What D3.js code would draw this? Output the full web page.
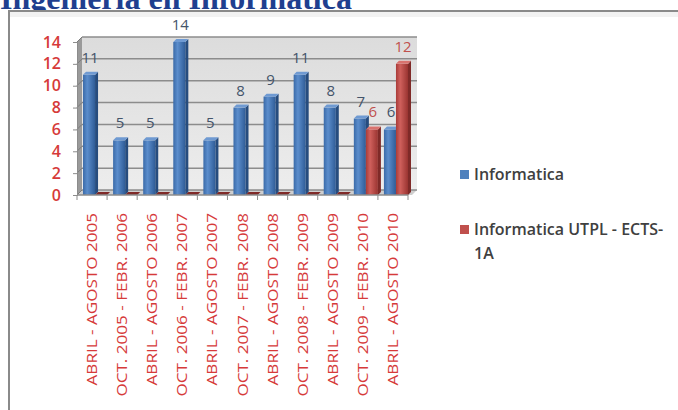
<!DOCTYPE html>
<html><head><meta charset="utf-8">
<script src="https://cdn.jsdelivr.net/npm/d3@7"></script>
<style>
html,body{margin:0;padding:0;background:#fff;overflow:hidden;}
svg{display:block;}
</style></head>
<body>
<script>
const categories = ["ABRIL - AGOSTO 2005","OCT. 2005 - FEBR. 2006","ABRIL - AGOSTO 2006","OCT. 2006 - FEBR. 2007","ABRIL - AGOSTO 2007","OCT. 2007 - FEBR. 2008","ABRIL - AGOSTO 2008","OCT. 2008 - FEBR. 2009","ABRIL - AGOSTO 2009","OCT. 2009 - FEBR. 2010","ABRIL - AGOSTO 2010"];
const informatica = [11,5,5,14,5,8,9,11,8,7,6];
const utpl = [0,0,0,0,0,0,0,0,0,6,12];
const seriesNames = ["Informatica","Informatica UTPL - ECTS-1A"];
const yTicks = [0,2,4,6,8,10,12,14];
const title = "Ingeniería en Informática";

const W = 678, H = 410;
const svg = d3.select("body").append("svg").attr("width", W).attr("height", H);
const defs = svg.append("defs");

function hGrad(id, stops){
  const g = defs.append("linearGradient").attr("id", id).attr("x1","0").attr("x2","1").attr("y1","0").attr("y2","0");
  stops.forEach(s => g.append("stop").attr("offset", s[0]).attr("stop-color", s[1]));
}
hGrad("gBlue", [[0,"#3a6aa8"],[0.35,"#5b8dcc"],[1,"#2f5c97"]]);
hGrad("gRed", [[0,"#a83b38"],[0.35,"#d0605c"],[1,"#9a3431"]]);
const vg = defs.append("linearGradient").attr("id","gWall").attr("x1","0").attr("x2","0").attr("y1","0").attr("y2","1");
vg.append("stop").attr("offset",0).attr("stop-color","#dcdcdc");
vg.append("stop").attr("offset",1).attr("stop-color","#ededed");

// Title (partially cut at top, as in the reference)
svg.append("text").attr("x", 0).attr("y", 9)
  .attr("font-family","'Liberation Serif','Times New Roman',serif")
  .attr("font-weight","bold").attr("font-size", 32).attr("fill","#1f3f8f")
  .text(title);

// Frame
svg.append("rect").attr("x", 9).attr("y", 11).attr("width", W).attr("height", H)
  .attr("fill","#fff").attr("stroke","#8a8a8a").attr("stroke-width", 2);
svg.append("rect").attr("x", 10).attr("y", 12).attr("width", W).attr("height", 5)
  .attr("fill","#f2f2f2");

// Scales
const x = d3.scaleBand().domain(categories).range([77, 408]);
const y = d3.scaleLinear().domain([0, 14]).range([195, 42]);
const dx = 5, dy = -5;
const bw = x.bandwidth();

// Walls
const g3 = svg.append("g");
g3.append("rect").attr("x", 77+dx).attr("y", y(14)+dy).attr("width", 408-77+4).attr("height", y(0)-y(14))
  .attr("fill","url(#gWall)");
g3.append("path").attr("d", `M77,${y(14)} L${77+dx},${y(14)+dy} L${77+dx},${y(0)+dy} L77,${y(0)} Z`)
  .attr("fill","#9a9a9a");
g3.append("path").attr("d", `M77,${y(0)} L${77+dx},${y(0)+dy} L${412+dx},${y(0)+dy} L412,${y(0)} Z`)
  .attr("fill","#cfcfcf");
g3.selectAll("line.grid").data(yTicks).join("line").attr("class","grid")
  .attr("x1", 77+dx).attr("x2", 412+dx)
  .attr("y1", d => y(d)+dy).attr("y2", d => y(d)+dy)
  .attr("stroke","#8c8c8c").attr("stroke-width", 1.5);
g3.selectAll("line.gridside").data(yTicks).join("line").attr("class","gridside")
  .attr("x1", 77).attr("x2", 77+dx)
  .attr("y1", d => y(d)).attr("y2", d => y(d)+dy)
  .attr("stroke","#7a7a7a").attr("stroke-width", 1);

// Bars
const series = [
  {name: seriesNames[0], values: informatica, fill: "url(#gBlue)", side: "#264c7e", top: "#6f9ad2", label: "#44546a", off: 0.20, leg: "#4f81bd"},
  {name: seriesNames[1], values: utpl, fill: "url(#gRed)", side: "#7f2a28", top: "#d9726e", label: "#c0504d", off: 0.60, leg: "#c0504d"}
];
const barW = bw * 0.40, bdx = 3, bdy = -3;
series.forEach(s => {
  const g = svg.append("g");
  categories.forEach((c, i) => {
    const v = s.values[i];
    const x0 = x(c) + bw * s.off, y0 = y(v), yb = y(0);
    if (v > 0) {
      g.append("rect").attr("x", x0).attr("y", y0).attr("width", barW).attr("height", yb - y0).attr("fill", s.fill);
      g.append("path").attr("d", `M${x0+barW},${y0} L${x0+barW+bdx},${y0+bdy} L${x0+barW+bdx},${yb+bdy} L${x0+barW},${yb} Z`).attr("fill", s.side);
    }
    g.append("path").attr("d", `M${x0},${y0} L${x0+bdx},${y0+bdy} L${x0+barW+bdx},${y0+bdy} L${x0+barW},${y0} Z`).attr("fill", v > 0 ? s.top : s.side);
    if (v > 0) {
      g.append("text").attr("x", x0 + barW/2 + 1).attr("y", y0 - 12)
        .attr("text-anchor","middle").attr("font-family","'Open Sans','Noto Sans',sans-serif")
        .attr("font-size", 15).attr("fill", s.label).text(v);
    }
  });
});

// Y axis
const yAxis = d3.axisLeft(y).tickValues(yTicks).tickSize(4).tickPadding(12);
const ya = svg.append("g").attr("transform","translate(77,0)").call(yAxis);
ya.select(".domain").attr("stroke","#8c8c8c");
ya.selectAll(".tick line").attr("stroke","#8c8c8c");
ya.selectAll(".tick text").attr("font-family","'Open Sans','Noto Sans',sans-serif")
  .attr("font-size", 16).attr("font-weight", 600).attr("fill","#d63a3a");

// X axis
const xa = svg.append("g").attr("transform", `translate(0,${y(0)})`);
xa.append("line").attr("x1", 77).attr("x2", 408).attr("stroke","#8c8c8c").attr("stroke-width",1.5);
const bounds = categories.map(c => x(c)).concat([x(categories[categories.length-1]) + bw]);
xa.selectAll("line.tk").data(bounds).join("line").attr("class","tk")
  .attr("x1", d => d).attr("x2", d => d).attr("y1", 0).attr("y2", 5).attr("stroke","#8c8c8c");
xa.selectAll("text").data(categories).join("text")
  .attr("transform", d => `translate(${x(d) + bw/2 + 5},18) rotate(-90) scale(1.22,1)`)
  .attr("text-anchor","end")
  .attr("font-family","'Open Sans','Noto Sans',sans-serif")
  .attr("font-size", 14).attr("fill","#d63a3a")
  .text(d => d);

// Legend
const lg = svg.append("g").attr("font-family","'Open Sans','Noto Sans',sans-serif")
  .attr("font-size", 16).attr("font-weight", 600).attr("fill","#404040");
const legendY = d3.scalePoint().domain(seriesNames).range([174, 229]);
lg.selectAll("rect").data(series).join("rect")
  .attr("x", 460).attr("y", d => legendY(d.name) - 4).attr("width", 9).attr("height", 9)
  .attr("fill", d => d.leg);
const lt = lg.selectAll("text").data(series).join("text")
  .attr("x", 474).attr("y", d => legendY(d.name) + 6);
lt.each(function(d, i){
  const t = d3.select(this);
  if (i === 0) t.text(d.name);
  else {
    t.append("tspan").attr("x", 474).text("Informatica UTPL - ECTS-");
    t.append("tspan").attr("x", 474).attr("dy", 24).text("1A");
  }
});
</script>
</body></html>
